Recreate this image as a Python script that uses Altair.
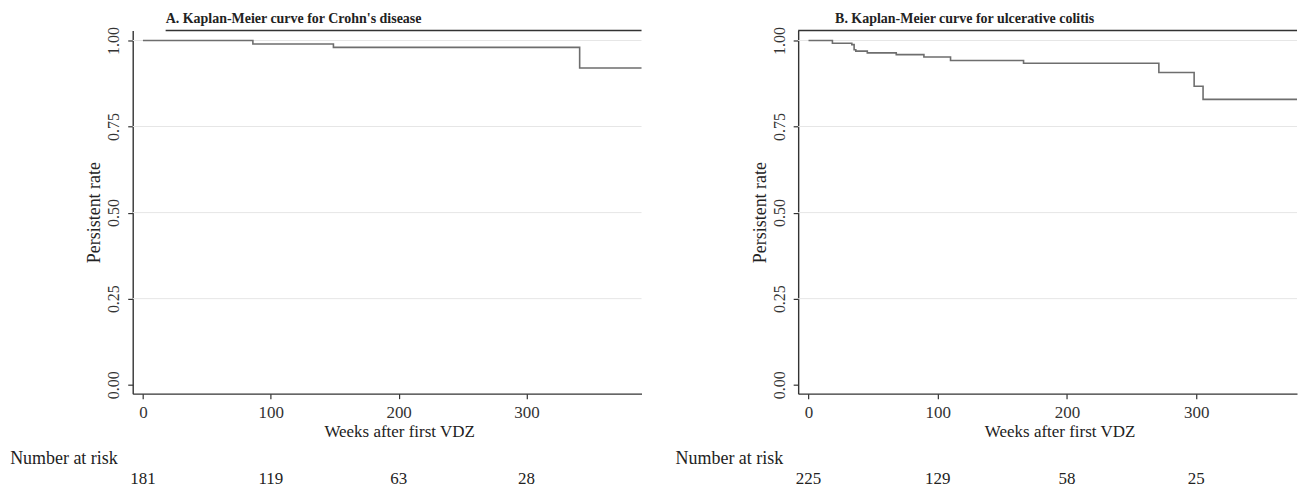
import altair as alt
import pandas as pd

# ---- data ----
a_weeks = [0, 86, 149, 341.6, 390]
a_surv = [1.0, 0.990, 0.980, 0.920, 0.920]
b_weeks = [0, 18.5, 33.5, 35.3, 36.6, 45.5, 67.9, 89.3, 109.9, 166.4, 271.1, 298.4, 305.3, 378]
b_surv = [1.0, 0.992, 0.988, 0.973, 0.969, 0.964, 0.959, 0.952, 0.942, 0.934, 0.907, 0.867, 0.829, 0.829]
risk_weeks = [0, 100, 200, 300]
a_risk = ["181", "119", "63", "28"]
b_risk = ["225", "129", "58", "25"]
grid_vals = [0.25, 0.5, 0.75, 1.0]
y_ticks = [0, 0.25, 0.5, 0.75, 1.0]
x_ticks = [0, 100, 200, 300]

FONT = "Liberation Serif"
H = 364


def panel(weeks, surv, risk, title, xmax, W, line_start, title_dx):
    xs = alt.Scale(domain=[-8, xmax], nice=False, zero=False)
    ys = alt.Scale(domain=[-0.026, 1.029], nice=False, zero=False)
    km = pd.DataFrame({"week": weeks, "surv": surv})
    grid = alt.Chart(pd.DataFrame({"g": grid_vals})).mark_rule(
        color="#e6e6e6", strokeWidth=1
    ).encode(x=alt.value(0), x2=alt.value(W), y=alt.Y("g:Q", scale=ys))
    line = alt.Chart(km).mark_line(
        interpolate="step-after", color="#6e6e6e", strokeWidth=1.6
    ).encode(
        x=alt.X("week:Q", scale=xs, axis=alt.Axis(
            values=x_ticks, title="Weeks after first VDZ", grid=False,
            tickSize=5, labelPadding=6, labelFontSize=17, titleFontSize=17,
            titleFontWeight="normal", titleX=W / 2 + 12, titleY=30,
            titleBaseline="top", titleAnchor="middle")),
        y=alt.Y("surv:Q", scale=ys, axis=alt.Axis(
            values=y_ticks, format=".2f", title="Persistent rate", grid=False,
            labelAngle=270, tickSize=5, labelPadding=6, labelFontSize=16,
            titleFontSize=18, titleFontWeight="normal", titlePadding=2)),
    )
    top = alt.Chart(pd.DataFrame({"a": [0]})).mark_rule(
        color="#333333", strokeWidth=1.6
    ).encode(x=alt.value(line_start), x2=alt.value(W), y=alt.value(0))
    ttl = alt.Chart(pd.DataFrame({"t": [title]})).mark_text(
        font=FONT, fontSize=14, fontWeight="bold", align="left",
        baseline="middle", color="#222222"
    ).encode(x=alt.value(title_dx), y=alt.value(-12), text="t:N")
    nar = alt.Chart(pd.DataFrame({"t": ["Number at risk"]})).mark_text(
        font=FONT, fontSize=18, align="right", baseline="middle", color="#222222"
    ).encode(x=alt.value(-15), y=alt.value(430), text="t:N")
    nums = alt.Chart(pd.DataFrame({"week": risk_weeks, "n": risk})).mark_text(
        font=FONT, fontSize=17, align="center", baseline="middle", color="#222222"
    ).encode(x=alt.X("week:Q", scale=xs), y=alt.value(450), text="n:N")
    return alt.layer(grid, line, top, ttl, nar, nums).properties(width=W, height=H)


pa = panel(a_weeks, a_surv, a_risk, "A. Kaplan-Meier curve for Crohn's disease", 390, 510, 33, 33)
pb = panel(b_weeks, b_surv, b_risk, "B. Kaplan-Meier curve for ulcerative colitis", 378, 500, 0, 37)

chart = alt.hconcat(pa, pb, spacing=30).properties(
    padding={"left": 2, "top": 3, "right": 0, "bottom": 0}
).configure_view(stroke=None).configure_axis(
    labelFont=FONT, titleFont=FONT, labelColor="#333333", titleColor="#222222",
    domainColor="#333333", tickColor="#333333", domainWidth=1.4, tickWidth=1.2
).resolve_scale(x="independent", y="independent")

chart.save("out.html", embed_options={"renderer": "svg", "actions": False})
